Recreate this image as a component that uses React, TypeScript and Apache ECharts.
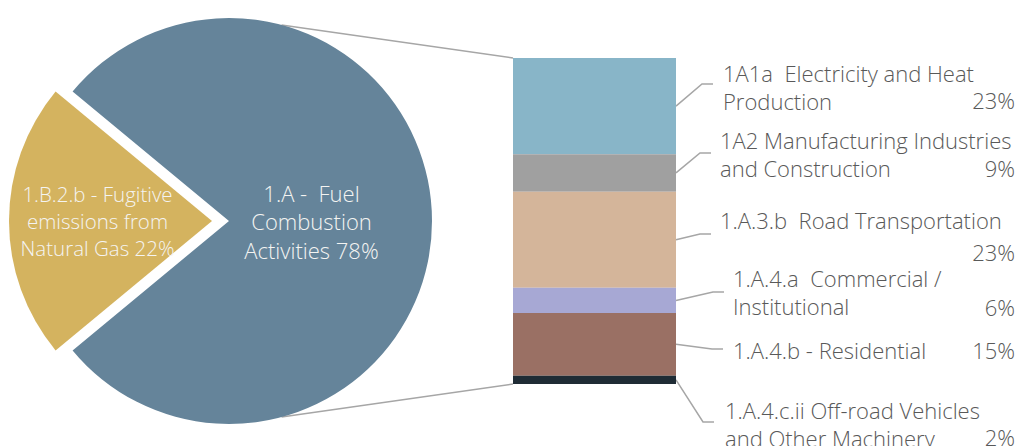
import React, { useEffect, useRef } from "react";
import * as echarts from "echarts";

// ---- data ----
const pieNames = ["1.B.2.b - Fugitive\nemissions from\nNatural Gas", "1.A -  Fuel\nCombustion\nActivities"];
const pieValues = [22, 78];
const pieColors = ["#D4B35F", "#65849A"];

const barNames = [
  "1A1a  Electricity and Heat\nProduction",
  "1A2 Manufacturing Industries\nand Construction",
  "1.A.3.b  Road Transportation",
  "1.A.4.a  Commercial /\nInstitutional",
  "1.A.4.b - Residential",
  "1.A.4.c.ii Off-road Vehicles\nand Other Machinery",
];
const barValues = [23, 9, 23, 6, 15, 2];
const barColors = ["#88B5C8", "#A0A0A0", "#D4B59A", "#A7A8D4", "#9A7064", "#1F2C35"];

// ---- layout (positions only) ----
const W = 1020;
const H = 446;
const PIE_C = [229, 221];
const PIE_R = 203;
const GRID = { left: 513, top: 58, width: 163, height: 326 };
const labelX = [723, 720, 720, 733, 733, 725];
const labelFirstY = [73, 140, 220, 278, 350, 410];
const pctY = [100, 168, 252, 307, 350, 437];
const elbowX = [702, 700, 700, 713, 712, 703];
const elbowY = [84, 153, 234, 292, 349, 422];
const pieLabelSize = [20.5, 22];
const pieLabelDx = [-10, -11];
const PCT_RIGHT = 1015;
const LINE_H = 27.5;
const FONT = "Open Sans";
const FONT_W = 300;
const FONT_S = 22;

export default function App() {
  const ref = useRef<HTMLDivElement>(null);
  useEffect(() => {
    if (!ref.current) return;
    const chart = echarts.init(ref.current, undefined, { renderer: "svg" });
    const total = barValues.reduce((a, b) => a + b, 0);
    const goldSpan = (pieValues[0] / (pieValues[0] + pieValues[1])) * 360;
    const option: any = {
      animation: false,
      grid: { ...GRID, containLabel: false },
      xAxis: { type: "category", data: ["1.A"], show: false },
      yAxis: { type: "value", min: 0, max: total, inverse: true, show: false },
      series: [
        {
          type: "pie",
          center: PIE_C,
          radius: PIE_R,
          startAngle: 180 + goldSpan / 2,
          clockwise: true,
          selectedMode: "single",
          selectedOffset: 17,
          silent: true,
          emphasis: { disabled: true },
          label: {
            show: true,
            position: "inside",
            fontFamily: FONT,
            fontWeight: FONT_W,
            fontSize: FONT_S,
            lineHeight: 28,
            color: "#F4F4F2",
            formatter: (p: any) => `${p.name} ${p.value}%`,
          },
          labelLayout: (p: any) => ({ dx: pieLabelDx[p.dataIndex] }),
          labelLine: { show: false },
          data: pieNames.map((n, i) => ({
            name: n,
            value: pieValues[i],
            selected: i === 0,
            itemStyle: { color: pieColors[i] },
            label: { fontSize: pieLabelSize[i], lineHeight: i === 0 ? 27 : 28.5 },
          })),
        },
        ...barNames.map((n, i) => ({
          type: "bar",
          name: n,
          stack: "total",
          barWidth: "100%",
          silent: true,
          itemStyle: { color: barColors[i] },
          data: [barValues[i]],
        })),
      ],
    };
    chart.setOption(option);

    const graphics: any[] = [];
    const lineStyle = { stroke: "#A6A6A6", lineWidth: 1.5, fill: null };
    const barLeft = GRID.left;
    const barRight = GRID.left + GRID.width;
    const topY = chart.convertToPixel({ gridIndex: 0 }, [0, 0])[1];
    const botY = chart.convertToPixel({ gridIndex: 0 }, [0, total])[1];
    const ang = (75 * Math.PI) / 180;
    graphics.push({
      type: "line",
      shape: { x1: PIE_C[0] + PIE_R * Math.cos(ang), y1: PIE_C[1] - PIE_R * Math.sin(ang), x2: barLeft, y2: topY },
      style: lineStyle,
      silent: true,
    });
    graphics.push({
      type: "line",
      shape: { x1: PIE_C[0] + PIE_R * Math.cos(ang), y1: PIE_C[1] + PIE_R * Math.sin(ang), x2: barLeft, y2: botY },
      style: lineStyle,
      silent: true,
    });

    let cum = 0;
    barNames.forEach((n, i) => {
      const mid = cum + barValues[i] / 2;
      cum += barValues[i];
      const y = chart.convertToPixel({ gridIndex: 0 }, [0, mid])[1];
      graphics.push({
        type: "polyline",
        shape: { points: [[barRight, y], [elbowX[i], elbowY[i]], [elbowX[i] + 11, elbowY[i]]] },
        style: lineStyle,
        silent: true,
      });
      graphics.push({
        type: "text",
        x: labelX[i],
        y: labelFirstY[i] - LINE_H / 2,
        silent: true,
        style: {
          text: n,
          fontFamily: FONT,
          fontWeight: FONT_W,
          fontSize: FONT_S,
          lineHeight: LINE_H,
          fill: "#595959",
          align: "left",
          verticalAlign: "top",
        },
      });
      graphics.push({
        type: "text",
        x: PCT_RIGHT,
        y: pctY[i],
        silent: true,
        style: {
          text: `${barValues[i]}%`,
          fontFamily: FONT,
          fontWeight: FONT_W,
          fontSize: FONT_S,
          fill: "#595959",
          align: "right",
          verticalAlign: "middle",
        },
      });
    });
    chart.setOption({ graphic: graphics });
    return () => chart.dispose();
  }, []);
  return (
    <div
      ref={ref}
      style={{ position: "fixed", left: 0, top: 0, width: W, height: H, background: "#fff" }}
    />
  );
}
